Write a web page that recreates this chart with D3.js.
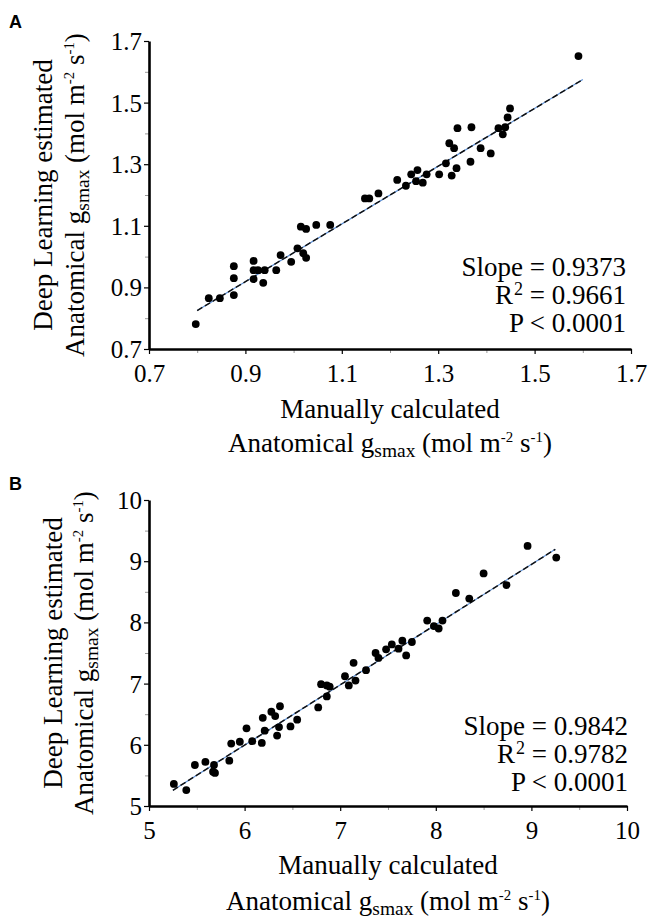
<!DOCTYPE html>
<html><head><meta charset="utf-8">
<script src="https://cdn.jsdelivr.net/npm/d3@7"></script>
<style>
html,body{margin:0;padding:0;background:#fff;}
svg{display:block;}
.serif{font-family:"Liberation Serif","Times New Roman",serif;fill:#000;}
.letter{font-family:"Liberation Sans",Arial,sans-serif;font-weight:bold;fill:#000;}
</style></head>
<body><svg id="chart" width="650" height="919"></svg>
<script>
// ---------- DATA ----------
// Panel A
const aManual = [0.797,0.824,0.847,0.876,0.876,0.876,0.917,0.917,0.917,0.926,0.937,0.940,0.964,0.973,0.995,1.008,1.020,1.026,1.015,1.026,1.047,1.076,
  1.148,1.157,1.176,1.215,1.233,1.244,1.257,1.254,1.268,1.276,1.302,1.316,1.328,1.338,1.323,1.333,1.340,1.369,1.367,1.388,1.409,1.425,1.434,1.439,1.444,1.449,1.591];
const aDeep = [0.781,0.865,0.865,0.969,0.930,0.875,0.986,0.956,0.927,0.956,0.915,0.956,0.956,1.005,0.983,1.027,1.011,0.996,1.097,1.090,1.103,1.103,
  1.189,1.189,1.205,1.249,1.230,1.267,1.281,1.245,1.240,1.267,1.267,1.303,1.263,1.287,1.368,1.352,1.417,1.420,1.308,1.352,1.335,1.417,1.397,1.420,1.452,1.481,1.651];
const aTicks = [0.7,0.9,1.1,1.3,1.5,1.7];
const aMinor = [0.8,1.0,1.2,1.4,1.6];
const aFit = {slope:0.9373, intercept:0.075, from:0.8, to:1.6};
const aStats = ["Slope = 0.9373","0.9661","P < 0.0001"];

// Panel B
const bManual = [5.26,5.39,5.48,5.59,5.68,5.67,5.69,5.84,5.86,5.95,6.02,6.08,6.18,6.19,6.21,6.28,6.32,6.37,6.36,6.34,6.48,6.55,6.77,6.80,6.86,6.86,6.89,
  7.05,7.09,7.14,7.16,7.27,7.37,7.40,7.48,7.54,7.61,7.65,7.69,7.75,7.91,7.98,8.03,8.07,8.21,8.35,8.50,8.74,8.96,9.26];
const bDeep = [5.36,5.26,5.67,5.72,5.67,5.56,5.54,5.74,6.02,6.05,6.27,6.06,6.03,6.44,6.23,6.54,6.47,6.63,6.29,6.15,6.30,6.41,6.61,6.99,6.79,6.97,6.95,
  7.12,6.97,7.34,7.05,7.22,7.50,7.42,7.56,7.64,7.57,7.70,7.46,7.68,8.03,7.94,7.90,8.03,8.48,8.39,8.80,8.61,9.25,9.06];
const bTicks = [5,6,7,8,9,10];
const bMinor = [5.5,6.5,7.5,8.5,9.5];
const bFit = {slope:0.9842, intercept:0.09, from:5.25, to:9.25};
const bStats = ["Slope = 0.9842","0.9782","P < 0.0001"];

const panelLetters = ["A","B"];

// ---------- DRAW ----------
const svg = d3.select("#chart");

function drawPanel(cfg){
  const g = svg.append("g");
  const x = d3.scaleLinear().domain(cfg.xDom).range([cfg.left, cfg.right]);
  const y = d3.scaleLinear().domain(cfg.yDom).range([cfg.bottom, cfg.top]);

  // minor ticks
  g.append("g").attr("transform",`translate(0,${cfg.bottom})`)
    .call(d3.axisBottom(x).tickValues(cfg.minor).tickSize(4).tickFormat(""))
    .call(s=>{s.select(".domain").remove(); s.selectAll("line").attr("stroke","#999").attr("stroke-width",1);});
  g.append("g").attr("transform",`translate(${cfg.left},0)`)
    .call(d3.axisLeft(y).tickValues(cfg.minor).tickSize(4).tickFormat(""))
    .call(s=>{s.select(".domain").remove(); s.selectAll("line").attr("stroke","#999").attr("stroke-width",1);});

  // major axes
  const xa = g.append("g").attr("transform",`translate(0,${cfg.bottom})`)
    .call(d3.axisBottom(x).tickValues(cfg.ticks).tickSize(5).tickSizeOuter(0).tickPadding(8).tickFormat(cfg.fmt));
  const ya = g.append("g").attr("transform",`translate(${cfg.left},0)`)
    .call(d3.axisLeft(y).tickValues(cfg.ticks).tickSize(5).tickSizeOuter(0).tickPadding(2).tickFormat(cfg.fmt));
  [xa,ya].forEach(a=>{
    a.select(".domain").attr("stroke","#000").attr("stroke-width",2.6);
    a.selectAll(".tick line").attr("stroke","#000").attr("stroke-width",1.2);
    a.selectAll("text").attr("class","serif").attr("font-family",null).attr("font-size",25);
  });
  xa.attr("font-family",null); ya.attr("font-family",null);
  xa.selectAll("text").attr("dy","0.78em");
  ya.selectAll("text").attr("dy","0.34em");

  // regression line: blue thin under black dashed
  const fit = [cfg.fit.from, cfg.fit.to].map(v=>[v, cfg.fit.slope*v+cfg.fit.intercept]);
  const line = d3.line().x(d=>x(d[0])).y(d=>y(d[1]));
  g.append("path").attr("d",line(fit)).attr("fill","none").attr("stroke","#5b8fd6").attr("stroke-width",1.2);
  g.append("path").attr("d",line(fit)).attr("fill","none").attr("stroke","#111")
    .attr("stroke-width",1.5).attr("stroke-dasharray","6,3");

  // points
  g.selectAll("circle").data(cfg.xs).enter().append("circle")
    .attr("cx",(d)=>x(d)).attr("cy",(d,i)=>y(cfg.ys[i])).attr("r",3.9).attr("fill","#000");

  // stats
  const st = g.append("g").attr("class","serif").attr("font-size",27).attr("text-anchor","end");
  st.append("text").attr("x",cfg.statX).attr("y",cfg.statY).text(cfg.stats[0]);
  const r2 = st.append("text").attr("x",cfg.statX).attr("y",cfg.statY+cfg.statGap);
  r2.append("tspan").text("R");
  r2.append("tspan").attr("font-size",18).attr("dx",1).attr("dy",-9).text("2");
  r2.append("tspan").attr("dy",9).text(" = "+cfg.stats[1]);
  st.append("text").attr("x",cfg.statX).attr("y",cfg.statY+2*cfg.statGap).text(cfg.stats[2]);

  // units label builder
  function gsLabel(t, big){
    t.append("tspan").text("Anatomical g");
    t.append("tspan").attr("font-size",big*0.72).attr("dy",5).text("smax");
    t.append("tspan").attr("dy",-5).text(" (mol m");
    t.append("tspan").attr("font-size",big*0.55).attr("dy",-10).text("-2");
    t.append("tspan").attr("dy",10).text(" s");
    t.append("tspan").attr("font-size",big*0.55).attr("dy",-10).text("-1");
    t.append("tspan").attr("dy",10).text(")");
  }
  const F = 27;
  const cx = (cfg.left+cfg.right)/2;
  g.append("text").attr("class","serif").attr("x",cx).attr("y",cfg.xt1).attr("text-anchor","middle").attr("font-size",F).text("Manually calculated");
  const xt2 = g.append("text").attr("class","serif").attr("x",cx).attr("y",cfg.xt2).attr("text-anchor","middle").attr("font-size",F);
  gsLabel(xt2, F);

  const cy = (cfg.top+cfg.bottom)/2;
  g.append("text").attr("class","serif").attr("transform",`translate(${cfg.yt1},${cy}) rotate(-90)`).attr("text-anchor","middle")
    .attr("font-size",F).text("Deep Learning estimated");
  const yt2 = g.append("text").attr("class","serif").attr("transform",`translate(${cfg.yt2},${cy}) rotate(-90)`).attr("text-anchor","middle").attr("font-size",F);
  gsLabel(yt2, F);

  // panel letter
  svg.append("text").attr("class","letter").attr("x",cfg.letterX).attr("y",cfg.letterY)
    .attr("font-size",18).text(cfg.letter);
}

drawPanel({
  xs:aManual, ys:aDeep, ticks:aTicks, minor:aMinor, fit:aFit, stats:aStats, letter:panelLetters[0],
  xDom:[0.7,1.7], yDom:[0.7,1.7], left:149, right:631, top:41, bottom:349,
  fmt:d3.format(".1f"), statX:626, statY:276, statGap:28,
  xt1:418, xt2:452, yt1:52, yt2:84, letterX:9, letterY:28
});
drawPanel({
  xs:bManual, ys:bDeep, ticks:bTicks, minor:bMinor, fit:bFit, stats:bStats, letter:panelLetters[1],
  xDom:[5,10], yDom:[5,10], left:149, right:627, top:500, bottom:806,
  fmt:d3.format("d"), statX:628, statY:735, statGap:28,
  xt1:874, xt2:910, yt1:62, yt2:93, letterX:9, letterY:490
});
</script>
</body></html>
